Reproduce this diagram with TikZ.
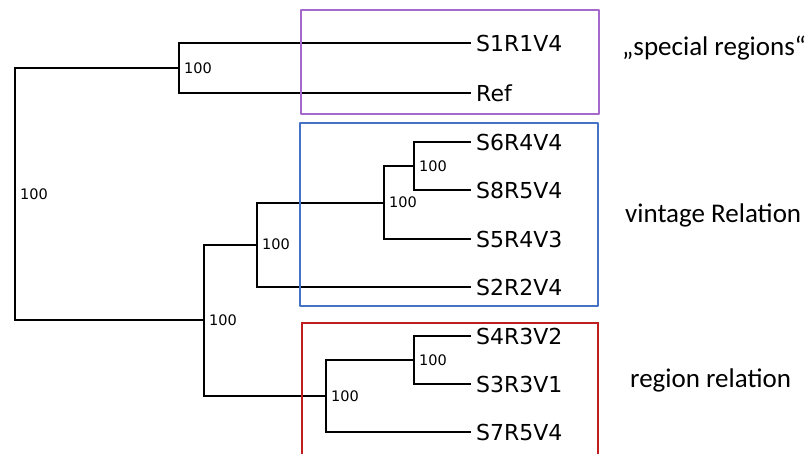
\documentclass[tikz,border=0pt]{standalone}
\usepackage{fontspec}
\setmainfont{DejaVu Sans}
\newfontfamily\grpfont{Carlito}
\usepackage{tikz}
\usepackage{tkz-euclide}
\usepackage{xcolor}
\definecolor{boxpurple}{RGB}{165,105,205}
\definecolor{boxblue}{RGB}{68,114,196}
\definecolor{boxred}{RGB}{190,30,30}

\begin{document}
\begin{tikzpicture}[x=1pt,y=-1pt,
    branch/.style={line width=2pt, line join=miter},
    leaf/.style={anchor=west, inner xsep=5pt, inner ysep=0pt, font=\fontsize{22}{24}\selectfont},
    boot/.style={anchor=west, inner sep=0pt, xshift=5pt, font=\fontsize{14.5}{16}\selectfont},
    group/.style={anchor=west, inner sep=0pt, font=\grpfont\fontsize{27}{30}\selectfont}]
        \useasboundingbox (0,0) rectangle (809,453);
        % inner points of the tree
        \tkzDefPoints{15/194/R, 179/68/A, 204/320/B, 257/244.5/C, 384/202.5/D, 414/166/E, 326/396/F, 414/360/G}
        % corners of the boxes
        \tkzDefPoints{301/10/P1, 599/10/P2, 599/114/P3, 301/114/P4}
        \tkzDefPoints{300/123/U1, 598/123/U2, 598/306/U3, 300/306/U4}
        \tkzDefPoints{302/460/W1, 302/323/W2, 598/323/W3, 598/460/W4}
        % leaves
        \node[leaf] (S1R1V4) at (471,43)  {S1R1V4};
        \node[leaf] (Ref)    at (471,93)  {Ref};
        \node[leaf] (S6R4V4) at (471,142) {S6R4V4};
        \node[leaf] (S8R5V4) at (471,190) {S8R5V4};
        \node[leaf] (S5R4V3) at (471,239) {S5R4V3};
        \node[leaf] (S2R2V4) at (471,287) {S2R2V4};
        \node[leaf] (S4R3V2) at (471,336) {S4R3V2};
        \node[leaf] (S3R3V1) at (471,384) {S3R3V1};
        \node[leaf] (S7R5V4) at (471,432) {S7R5V4};
        % branches
        \draw[branch] (R) |- (A);
        \draw[branch] (R) |- (B);
        \draw[branch] (A) |- (S1R1V4.west);
        \draw[branch] (A) |- (Ref.west);
        \draw[branch] (B) |- (C);
        \draw[branch] (B) |- (F);
        \draw[branch] (C) |- (D);
        \draw[branch] (C) |- (S2R2V4.west);
        \draw[branch] (D) |- (E);
        \draw[branch] (D) |- (S5R4V3.west);
        \draw[branch] (E) |- (S6R4V4.west);
        \draw[branch] (E) |- (S8R5V4.west);
        \draw[branch] (F) |- (G);
        \draw[branch] (F) |- (S7R5V4.west);
        \draw[branch] (G) |- (S4R3V2.west);
        \draw[branch] (G) |- (S3R3V1.west);
        % support values
        \node[boot] (bR) at (R) {100};
        \node[boot] (bA) at (A) {100};
        \node[boot] (bB) at (B) {100};
        \node[boot] (bC) at (C) {100};
        \node[boot] (bD) at (D) {100};
        \node[boot] (bE) at (E) {100};
        \node[boot] (bF) at (F) {100};
        \node[boot] (bG) at (G) {100};
        % groups
        \tkzDrawPolygon[boxpurple, line width=1.3pt](P1,P2,P3,P4)
        \tkzDrawPolygon[boxblue, line width=2pt](U1,U2,U3,U4)
        \draw[boxred, line width=1.3pt] (W1) -- (W2) -- (W3) -- (W4);
        \node[group] (special) at (622,48)  {„special regions“};
        \node[group] (vintage) at (625,215) {vintage Relation};
        \node[group] (region)  at (630,380) {region relation};
    \end{tikzpicture}
\end{document}
